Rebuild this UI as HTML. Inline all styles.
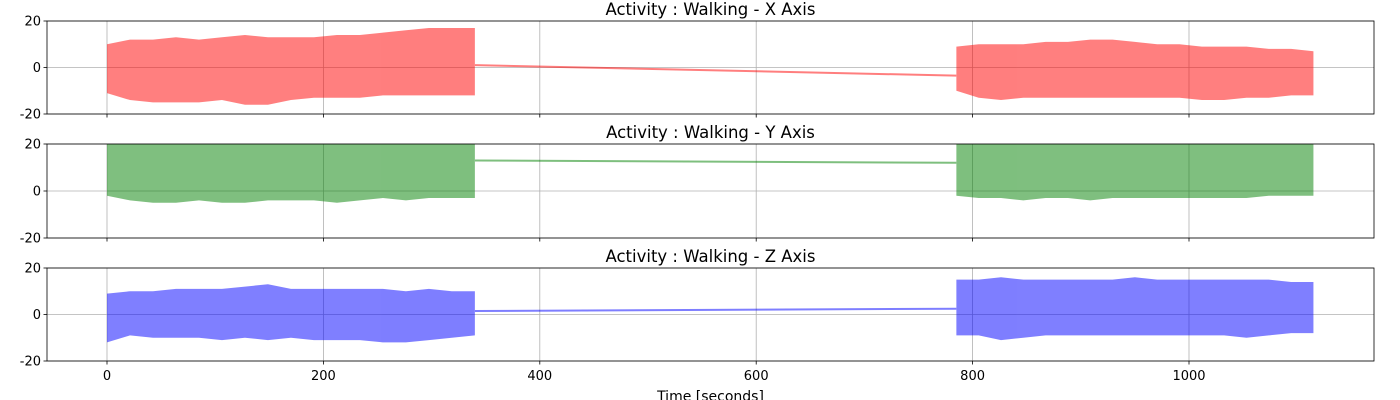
<!DOCTYPE html>
<html><head><meta charset="utf-8"><style>
html,body{margin:0;padding:0;background:#fff;}
svg{display:block;font-family:"DejaVu Sans","Liberation Sans",sans-serif;}
</style></head><body>
<svg id="chart" width="1400" height="400" viewBox="0 0 1400 400" xmlns="http://www.w3.org/2000/svg"></svg>
<script>
// ---- data ----
const xTicks = [0, 200, 400, 600, 800, 1000];
const yTicks = [20, 0, -20];
const axisNames = ["X", "Y", "Z"];
const seg1Start = 0, seg1End = 340, seg2Start = 785, seg2End = 1115;
// envelope per 20s bin (segment 1: 0..340, segment 2: 785..1115)
const xSeg1Max = [10, 12, 12, 13, 12, 13, 14, 13, 13, 13, 14, 14, 15, 16, 17, 17, 17];
const xSeg1Min = [-11, -14, -15, -15, -15, -14, -16, -16, -14, -13, -13, -13, -12, -12, -12, -12, -12];
const xSeg2Max = [9, 10, 10, 10, 11, 11, 12, 12, 11, 10, 10, 9, 9, 9, 8, 8, 7];
const xSeg2Min = [-10, -13, -14, -13, -13, -13, -13, -13, -13, -13, -13, -14, -14, -13, -13, -12, -12];
const xGap = [1, -3.5];
const ySeg1Max = [20, 20, 20, 20, 20, 20, 20, 20, 20, 20, 20, 20, 20, 20, 20, 20, 20];
const ySeg1Min = [-2, -4, -5, -5, -4, -5, -5, -4, -4, -4, -5, -4, -3, -4, -3, -3, -3];
const ySeg2Max = [20, 20, 20, 20, 20, 20, 20, 20, 20, 20, 20, 20, 20, 20, 20, 20, 20];
const ySeg2Min = [-2, -3, -3, -4, -3, -3, -4, -3, -3, -3, -3, -3, -3, -3, -2, -2, -2];
const yGap = [13, 12];
const zSeg1Max = [9, 10, 10, 11, 11, 11, 12, 13, 11, 11, 11, 11, 11, 10, 11, 10, 10];
const zSeg1Min = [-12, -9, -10, -10, -10, -11, -10, -11, -10, -11, -11, -11, -12, -12, -11, -10, -9];
const zSeg2Max = [15, 15, 16, 15, 15, 15, 15, 15, 16, 15, 15, 15, 15, 15, 15, 14, 14];
const zSeg2Min = [-9, -9, -11, -10, -9, -9, -9, -9, -9, -9, -9, -9, -9, -10, -9, -8, -8];
const zGap = [1.5, 2.5];

const series = [
 {s1max:xSeg1Max,s1min:xSeg1Min,s2max:xSeg2Max,s2min:xSeg2Min,gap:xGap,color:"#ff0000"},
 {s1max:ySeg1Max,s1min:ySeg1Min,s2max:ySeg2Max,s2min:ySeg2Min,gap:yGap,color:"#008000"},
 {s1max:zSeg1Max,s1min:zSeg1Min,s2max:zSeg2Max,s2min:zSeg2Min,gap:zGap,color:"#0000ff"}
];

// ---- layout ----
const NS = "http://www.w3.org/2000/svg";
const svg = document.getElementById("chart");
const L = 47, R = 1374;
const panels = [[21,114],[144,238],[268,361]];
const xs = t => 107 + t * (1189 - 107) / 1000;
function mk(tag, attrs, parent){const e=document.createElementNS(NS,tag);for(const k in attrs)e.setAttribute(k,attrs[k]);(parent||svg).appendChild(e);return e;}

panels.forEach((p, i) => {
  const [top, bot] = p;
  const ys = v => top + (20 - v) * (bot - top) / 40;
  const g = mk("g", {});
  
  
  const clipId = "clip" + i;
  const cp = mk("clipPath", {id: clipId}, g);
  mk("rect", {x: L, y: top, width: R - L, height: bot - top}, cp);
  xTicks.forEach(t => {
    const l = mk("line", {x1: xs(t), x2: xs(t), y1: top, y2: bot, stroke: "#b0b0b0", "stroke-width": 0.8}, g);
    
    
  });
  yTicks.forEach(v => {
    const l = mk("line", {x1: L, x2: R, y1: ys(v), y2: ys(v), stroke: "#b0b0b0", "stroke-width": 0.8}, g);
    
    
  });
  const s = series[i];
  const dg = mk("g", {"clip-path": "url(#" + clipId + ")", opacity: 0.5}, g);
  function band(mx, mn, t0, t1, name){
    const n = mx.length, step = (t1 - t0) / (n - 1);
    let pts = [];
    for (let k = 0; k < n; k++) pts.push(xs(t0 + k*step) + "," + ys(mx[k]));
    for (let k = n - 1; k >= 0; k--) pts.push(xs(t0 + k*step) + "," + ys(mn[k]));
    const pg = mk("polygon", {points: pts.join(" "), fill: s.color}, dg);
    
    
  }
  band(s.s1max, s.s1min, seg1Start, seg1End, 'signal-segment-1');
  band(s.s2max, s.s2min, seg2Start, seg2End, 'signal-segment-2');
  const gl = mk("line", {x1: xs(seg1End), y1: ys(s.gap[0]), x2: xs(seg2Start), y2: ys(s.gap[1]), stroke: s.color, "stroke-width": 2}, dg);
  
  
  const fr = mk("rect", {x: L, y: top, width: R - L, height: bot - top, fill: "none", stroke: "#000", "stroke-width": 0.8}, g);
  
  
  yTicks.forEach(v => {
    mk("line", {x1: L - 3.5, x2: L, y1: ys(v), y2: ys(v), stroke: "#000", "stroke-width": 0.8}, g);
    const t = mk("text", {x: L - 6, y: ys(v) + 4.5, "text-anchor": "end", "font-size": 13, fill: "#000"}, g);
    t.textContent = v;
    
    
  });
  xTicks.forEach(v => {
    mk("line", {x1: xs(v), x2: xs(v), y1: bot, y2: bot + 3.5, stroke: "#000", "stroke-width": 0.8}, g);
    if (i === 2) {
      const t = mk("text", {x: xs(v), y: bot + 19, "text-anchor": "middle", "font-size": 13, fill: "#000"}, g);
      t.textContent = v;
      
      
    }
  });
  const title = mk("text", {x: (L + R) / 2, y: top - 6, "text-anchor": "middle", "font-size": 16.5, fill: "#000"}, g);
  title.textContent = "Activity : Walking - " + axisNames[i] + " Axis";
  
  
});
const xl = mk("text", {x: (L + R) / 2, y: 401, "text-anchor": "middle", "font-size": 14, fill: "#000"});
xl.textContent = "Time [seconds]";


</script>
</body></html>
